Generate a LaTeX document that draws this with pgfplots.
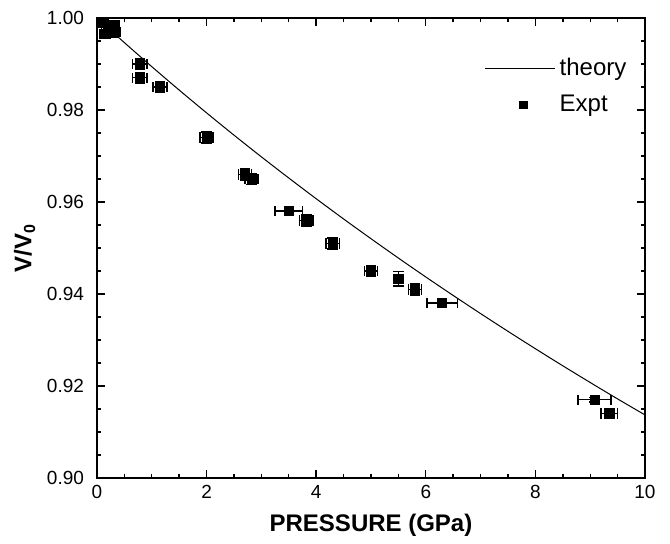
\documentclass[border=0pt]{standalone}
\usepackage{pgfplots}
\pgfplotsset{compat=1.18}
\usepackage{fontspec}
\setmainfont{Liberation Sans}
\pgfplotsset{
    longline/.style={legend image code/.code={\draw[##1] (0pt,0pt) -- (35pt,0pt);}},
    midmark/.style={legend image code/.code={\draw[##1, mark size=1.9pt] plot coordinates {(19pt,0pt)};}},
}

\begin{document}
\begin{tikzpicture}
\useasboundingbox (-48.5pt,-33pt) rectangle (286.5pt,239pt);
\begin{axis}[
    scale only axis,
    anchor=south west, at={(0,0)},
    width=274pt, height=230pt,
    xmin=0, xmax=10, ymin=0.90, ymax=1.00,
    xtick={0,2,...,10}, ytick={0.90,0.92,...,1.001},
    minor x tick num=3, minor y tick num=3,
    tick align=inside,
    major tick length=4pt, minor tick length=2pt,
    axis line style={line width=1pt},
    every tick/.style={black, line width=0.7pt},
    tick label style={font=\fontsize{9.5}{11}\selectfont},
    /pgf/number format/assume math mode=true,
    yticklabel style={xshift=-3pt, /pgf/number format/.cd, fixed, fixed zerofill, precision=2},
    xticklabel style={/pgf/number format/.cd, fixed, precision=0},
    xlabel={\textbf{PRESSURE (GPa)}},
    ylabel={\textbf{V/V\textsubscript{0}}},
    label style={font=\fontsize{12}{14}\selectfont},
    xlabel style={yshift=-1pt},
    ylabel style={yshift=-1pt},
    legend style={draw=none, fill=none, at={(0.985,0.93)}, anchor=north east,
        font=\fontsize{12}{14}\selectfont, row sep=4pt},
    legend cell align=left,
]
% theory curve
\addplot[black, line width=0.5pt, smooth, longline] coordinates {
    (0,1.00000) (0.5,0.99464) (1,0.98942) (1.5,0.98433) (2,0.97937)
    (2.5,0.97453) (3,0.96981) (3.5,0.96521) (4,0.96071) (4.5,0.95631)
    (5,0.95202) (5.5,0.94781) (6,0.94370) (6.5,0.93968) (7,0.93574)
    (7.5,0.93188) (8,0.92810) (8.5,0.92439) (9,0.92076) (9.5,0.91719)
    (10,0.91371)};
\addlegendentry{theory}
% experiment
\addplot[only marks, mark=square*, mark size=2.3pt, black, midmark,
    error bars/.cd, x dir=both, x explicit, y dir=both, y explicit,
    error bar style={line width=0.7pt}, error mark options={rotate=90, mark size=2.6pt, line width=0.7pt}]
    coordinates {
    (0.10,0.9990) +- (0.10,0.0010)
    (0.30,0.9985) +- (0.10,0.0010)
    (0.20,0.9970) +- (0.12,0.0012)
    (0.30,0.9970) +- (0.12,0.0012)
    (0.15,0.9965) +- (0.10,0.0010)
    (0.78,0.9900) +- (0.13,0.0012)
    (0.78,0.9870) +- (0.13,0.0012)
    (1.15,0.9850) +- (0.13,0.0012)
    (2.00,0.9740) +- (0.12,0.0012)
    (2.70,0.9660) +- (0.12,0.0012)
    (2.82,0.9650) +- (0.12,0.0012)
    (3.50,0.9580) +- (0.25,0.0005)
    (3.82,0.9560) +- (0.12,0.0012)
    (4.30,0.9510) +- (0.12,0.0012)
    (5.00,0.9450) +- (0.12,0.0012)
    (5.50,0.9433) +- (0.05,0.0016)
    (5.80,0.9410) +- (0.12,0.0012)
    (6.30,0.9380) +- (0.28,0.0005)
    (9.08,0.9170) +- (0.30,0.0005)
    (9.35,0.9140) +- (0.15,0.0010)
    };
\addlegendentry{Expt}
\end{axis}
\end{tikzpicture}
\end{document}
